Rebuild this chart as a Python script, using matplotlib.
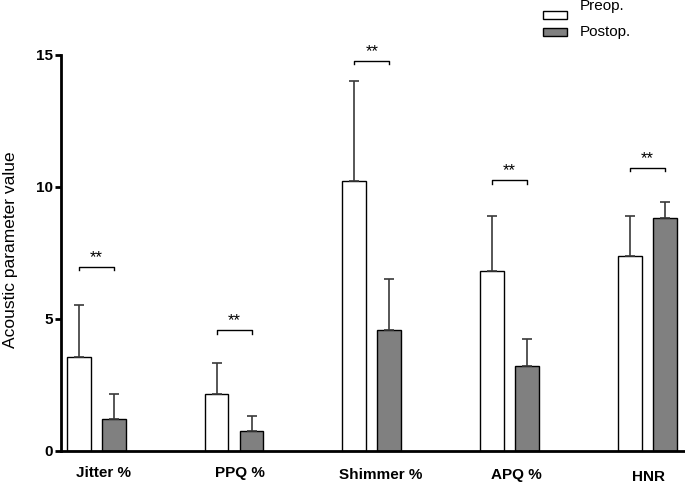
import numpy as np
import matplotlib.pyplot as plt
import matplotlib.transforms as mtransforms
from matplotlib.patches import Rectangle

plt.rcParams['font.family'] = ['Liberation Sans', 'DejaVu Sans']

categories = ['Jitter %', 'PPQ %', 'Shimmer %', 'APQ %', 'HNR']
preop = [3.56, 2.14, 10.23, 6.81, 7.37]
preop_sd = [1.96, 1.17, 3.76, 2.09, 1.52]
postop = [1.19, 0.76, 4.57, 3.22, 8.83]
postop_sd = [0.96, 0.57, 1.92, 1.01, 0.60]
bracket_y = [6.97, 4.56, 14.77, 10.25, 10.72]
sig = ['**', '**', '**', '**', '**']
series_names = ['Preop.', 'Postop.']
series_colors = ['white', '#808080']

x = np.arange(len(categories))
off = 0.127
w = 0.172
W, H = 685, 484

fig = plt.figure(figsize=(6.85, 4.84), dpi=100)
ax = fig.add_axes([61 / W, 33.3 / H, 1 - 61 / W, 1 - 33.3 / H])

ekw = dict(ecolor='#3a3a3a', elinewidth=1.2, capsize=3.6, capthick=1.2)
n = len(categories)
ax.bar(x - off, preop, w, color=series_colors[0], edgecolor='black', linewidth=1.0,
       yerr=[[0] * n, preop_sd], error_kw=ekw, zorder=2)
ax.bar(x + off, postop, w, color=series_colors[1], edgecolor='black', linewidth=1.0,
       yerr=[[0] * n, postop_sd], error_kw=ekw, zorder=2)

# significance brackets
for i, (by, s) in enumerate(zip(bracket_y, sig)):
    ax.plot([x[i] - off, x[i] - off, x[i] + off, x[i] + off],
            [by - 0.14, by, by, by - 0.14], color='black', lw=1.0, clip_on=False)
    ax.text(x[i], by + 0.18, s, ha='center', va='baseline', fontsize=12)

ax.set_xlim((61 - 96.25) / 137.8, (685 - 96.25) / 137.8)
ax.set_ylim(0, 17.07)
ax.set_yticks([0, 5, 10, 15])
for lbl in ax.get_yticklabels():
    lbl.set_fontweight('bold')
ax.tick_params(axis='y', width=2, length=4, labelsize=11, pad=2)
ax.set_xticks(x)
ax.set_xticklabels(categories, fontweight='bold', fontsize=11)
ax.tick_params(axis='x', length=0, pad=11)

# small per-label nudges seen in the original
dx = [7, 6, 9, 7, 1]
dy = [0, 0, -2, -2, -4]
for lbl, ddx, ddy in zip(ax.get_xticklabels(), dx, dy):
    lbl.set_transform(lbl.get_transform() +
                      mtransforms.ScaledTranslation(ddx / 100, ddy / 100, fig.dpi_scale_trans))

ax.spines['top'].set_visible(False)
ax.spines['right'].set_visible(False)
ax.spines['left'].set_linewidth(2)
ax.spines['bottom'].set_linewidth(2)
ax.spines['left'].set_bounds(0, 15)
ax.set_ylabel('Acoustic parameter value', fontsize=12.5)
ax.yaxis.set_label_coords((18 - 61) / (W - 61), 0.445)

# legend (top right)
box_top = [11, 28]
base_y = [10, 36]
for name, col, bt, by in zip(series_names, series_colors, box_top, base_y):
    fig.patches.append(Rectangle((543 / W, 1 - (bt + 7.5) / H), 24 / W, 7.5 / H,
                                 transform=fig.transFigure, facecolor=col,
                                 edgecolor='black', linewidth=1.0))
    fig.text(580 / W, 1 - by / H, name, fontsize=11, va='baseline', ha='left')

fig.savefig('out.png', dpi=100)
